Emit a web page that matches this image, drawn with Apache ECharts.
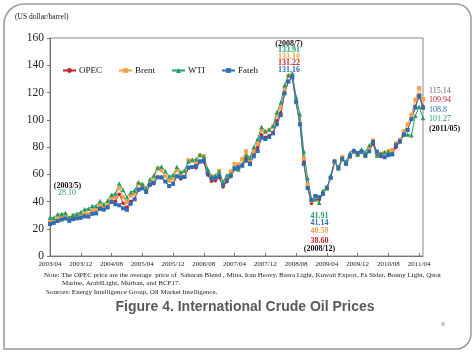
<!DOCTYPE html>
<html>
<head>
<meta charset="utf-8">
<script src="https://cdn.jsdelivr.net/npm/echarts@6/dist/echarts.min.js"></script>
<style>
html,body{margin:0;padding:0;background:#fff;}
#c{width:474px;height:355px;}
</style>
</head>
<body>
<div id="c"></div>
<script>
// Months 2003/04 .. 2011/05
var categories = [];
(function(){ var y=2003,m=4; while(!(y===2011&&m===6)){ categories.push(y+'/'+(m<10?'0'+m:m)); m++; if(m>12){m=1;y++;} } })();

var opec = [
 25.0,25.6,27.0,27.8,28.7,26.4,28.4,28.5,29.4,
 30.3,29.6,32.0,32.4,36.3,34.6,36.3,40.3,40.2,45.4,38.8,35.7,
 40.2,41.7,49.1,49.6,46.9,52.0,53.1,57.8,57.9,54.6,51.3,52.7,
 58.5,56.6,57.9,64.4,65.1,64.6,68.9,68.8,59.4,54.8,55.2,57.4,
 50.7,54.5,58.2,63.4,64.4,66.9,71.8,68.7,74.2,79.4,88.9,87.1,
 88.4,90.6,99.3,105.2,119.4,128.3,131.22,112.4,96.9,69.2,49.8,38.60,
 41.5,41.4,45.8,50.2,57.0,68.4,64.6,71.4,67.2,72.7,76.3,74.0,
 76.0,73.0,77.2,82.3,74.5,73.0,72.5,74.2,74.6,79.9,83.7,88.6,
 92.8,100.3,109.8,118.1,109.94
];
var brent = [
 25.00,25.86,27.65,28.35,29.89,27.11,29.61,28.75,29.81,
 31.28,30.86,33.63,33.59,37.57,35.18,38.22,42.74,43.20,49.78,43.11,39.60,
 44.51,45.48,53.10,51.88,48.65,54.35,57.52,63.98,62.91,58.54,55.24,56.86,
 62.99,60.21,62.06,70.26,69.78,68.56,73.67,73.23,61.96,57.81,58.76,62.47,
 53.68,57.56,62.05,67.49,67.21,71.05,76.93,70.76,77.17,82.34,92.41,90.93,
 92.18,94.99,103.64,109.07,122.80,132.32,133.10,113.24,97.23,71.58,52.45,40.58,
 43.44,43.32,46.54,50.18,57.30,68.61,64.44,72.51,67.65,72.77,76.66,74.46,
 76.17,73.75,78.83,84.82,75.95,74.76,75.58,77.04,77.84,82.67,85.28,91.45,
 96.52,103.72,114.64,123.26,115.14
];
var wti = [
 28.25,28.10,30.72,30.76,31.59,28.29,30.33,31.09,32.15,
 34.31,34.69,36.74,36.75,40.28,38.03,40.78,44.90,45.94,53.28,48.47,43.15,
 46.84,48.15,54.19,52.98,49.83,56.35,59.00,64.99,65.59,62.26,58.32,59.41,
 65.49,61.63,62.69,69.44,70.84,70.95,74.41,73.04,63.80,58.89,59.08,61.96,
 54.51,59.28,60.44,63.98,63.46,67.49,74.12,72.36,79.92,85.80,94.77,91.69,
 92.97,95.39,105.45,112.58,125.40,132.6,133.91,116.67,104.11,76.61,57.31,41.91,
 41.71,39.09,47.94,49.65,59.03,69.64,64.15,71.05,69.41,75.72,77.99,74.47,
 78.33,76.39,81.20,84.29,73.74,75.34,76.32,76.60,75.24,81.89,84.25,89.15,
 89.17,88.58,102.86,109.53,101.27
];
var fateh = [
 23.5,24.3,25.7,26.7,27.5,25.8,27.0,27.6,28.0,
 29.1,28.9,31.0,31.3,34.6,34.0,35.6,39.7,38.0,37.2,35.0,33.9,
 38.4,41.6,48.6,49.6,47.0,52.6,53.9,57.8,57.6,54.7,51.3,53.1,
 58.5,57.7,58.1,64.9,65.3,66.1,69.5,69.9,60.9,56.8,56.8,58.8,
 51.9,55.7,58.8,64.4,65.1,66.2,70.0,67.4,73.2,77.1,86.8,85.8,
 87.4,90.0,96.7,103.4,119.4,128.0,131.16,113.2,96.7,67.5,49.9,41.14,
 44.1,43.1,45.6,50.1,57.5,69.5,65.0,71.4,67.7,73.2,77.0,75.6,
 76.6,73.6,76.8,83.6,76.6,73.8,72.5,74.0,74.6,81.4,84.3,89.2,
 92.4,100.4,108.9,117.3,108.8
];
var seriesNames = ['OPEC','Brent','WTI','Fateh'];
var colors = ['#c3232c','#f5a047','#239c64','#2c6db3'];

var peakLabels = ['(2008/7)','133.91','133.10','131.22','131.16'];
var troughLabels = ['41.91','41.14','40.58','38.60','(2008/12)'];
var endLabels = ['115.14','109.94','108.8','101.27','(2011/05)'];
var startLabels = ['(2003/5)','28.10'];
var titleText = 'Figure 4. International Crude Oil Prices';
var unitText = '(US dollar/barrel)';
var noteLines = [
 'Note: The OPEC price are the average  price of  Saharan Blend , Mina, Iran Heavy, Basra Light, Kuwait Export, Es Sider, Bonny Light, Qstat',
 'Marine, ArabILight, Murban, and BCF17.',
 'Sources: Energy Intelligence Group, Oil Market Intelligence.'
];

var SERIF = '"Liberation Serif","Times New Roman",serif';
var chart = echarts.init(document.getElementById('c'), null, {renderer:'canvas'});

function txt(t, x, y, size, color, bold, align){
  return {type:'text', style:{text:t, x:x, y:y, fill:color, textAlign:align||'center', textVerticalAlign:'middle',
    font:(bold?'bold ':'')+size+'px '+SERIF}};
}
var g = [];
g.push({type:'rect', shape:{x:4, y:4, width:467, height:345, r:[20,15,15,0]}, style:{fill:'none', stroke:'#9a9a9a', lineWidth:1.5}, z:-1});
g.push(txt(unitText, 15, 17, 7.5, '#111', false, 'left'));
var pc = [ '#111', colors[2], colors[1], colors[0], colors[3] ];
var py = [44, 50, 56.5, 63, 69.5];
peakLabels.forEach(function(t,i){ g.push(txt(t, 289, py[i], 8, pc[i], true)); });
var tc = [colors[2], colors[3], colors[1], colors[0], '#111'];
var ty = [215.5, 223, 230.5, 241, 249];
troughLabels.forEach(function(t,i){ g.push(txt(t, 319.5, ty[i], 8, tc[i], true)); });
var ec = ['#666', colors[0], colors[3], colors[2], '#111'];
var ey = [91, 100, 109.5, 119, 129];
endLabels.forEach(function(t,i){ g.push(txt(t, 429, ey[i], 8, ec[i], i===4, 'left')); });
g.push(txt(startLabels[0], 67.5, 186, 8, '#111', true));
g.push(txt(startLabels[1], 67, 192.5, 8, colors[2], false));
g.push(txt(noteLines[0], 44, 275, 7, '#222', false, 'left'));
g.push(txt(noteLines[1], 62, 283.5, 7, '#222', false, 'left'));
g.push(txt(noteLines[2], 46, 292, 7, '#222', false, 'left'));
g.push({type:'text', style:{text:titleText, x:245, y:307, fill:'#5a5a5a', textAlign:'center', textVerticalAlign:'middle',
  font:'bold 14px "Liberation Sans",Arial,sans-serif'}});
g.push(txt('6', 443, 324, 7, '#777', false));

var symbols = ['circle','rect','triangle','rect'];
var symSizes = [3.5,4,4.5,4];
var dataSets = [opec, brent, wti, fateh];

chart.setOption({
  animation:false,
  backgroundColor:'#fff',
  grid:{left:50, right:51, top:38, bottom:99, show:true, borderColor:'#8a8a8a', borderWidth:1},
  legend:{
    data:seriesNames, left:57, top:61, itemWidth:13, itemHeight:6, itemGap:16,
    textStyle:{fontFamily:SERIF, fontSize:9, color:'#111', padding:[0,0,0,-2]}
  },
  xAxis:{
    type:'category', data:categories, boundaryGap:false,
    axisLine:{lineStyle:{color:'#777', width:1}},
    axisTick:{show:true, inside:true, length:3, interval:7, lineStyle:{color:'#777'}},
    axisLabel:{interval:7, fontFamily:SERIF, fontSize:7, color:'#222', margin:5, hideOverlap:false}
  },
  yAxis:{
    type:'value', min:0, max:160, interval:20,
    splitLine:{show:false},
    axisLine:{show:true, lineStyle:{color:'#777'}},
    axisTick:{show:true, length:3, lineStyle:{color:'#777'}},
    axisLabel:{fontFamily:SERIF, fontSize:11.5, color:'#222', margin:6}
  },
  series: seriesNames.map(function(n,i){
    return {name:n, type:'line', data:dataSets[i], symbol:symbols[i], symbolSize:symSizes[i],
      showSymbol:true, showAllSymbol:true, color:colors[i], lineStyle:{width:1, color:colors[i]}, itemStyle:{color:colors[i]}};
  }),
  graphic:g
});
</script>
</body>
</html>
